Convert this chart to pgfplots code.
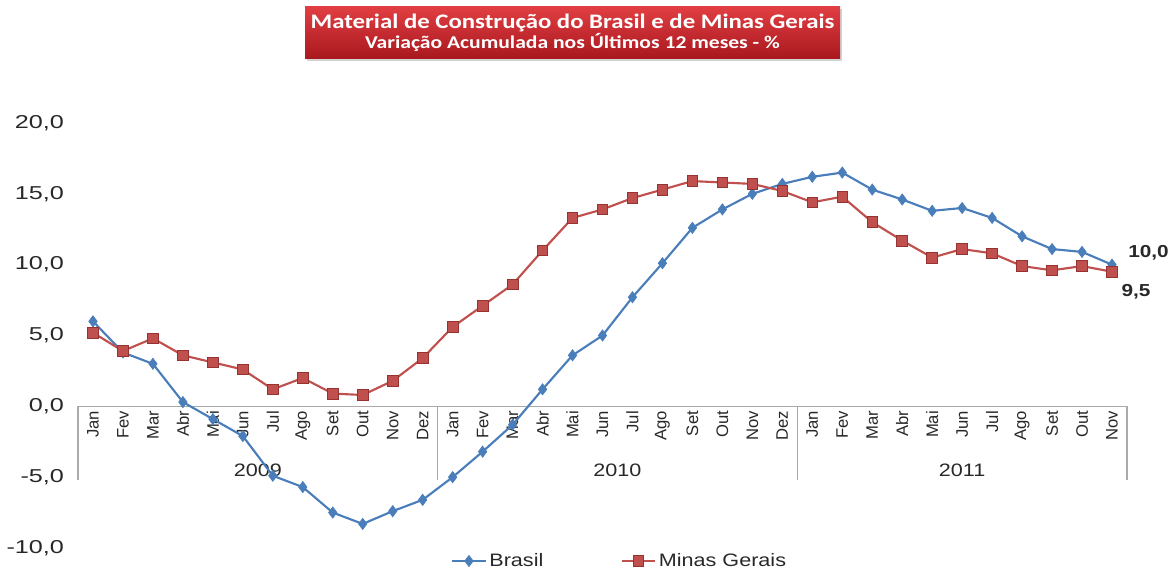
\documentclass[border=0pt]{standalone}
\usepackage{pgfplots}
\pgfplotsset{compat=1.18}
\usepackage{fontspec}
\setmainfont{Liberation Sans}
\newfontfamily\titlefont{Carlito}
\usepackage{graphicx}
\usetikzlibrary{shadows}
\definecolor{bblue}{RGB}{74,126,187}
\definecolor{rred}{RGB}{192,80,77}
\definecolor{rredd}{RGB}{150,50,48}
\definecolor{axgray}{RGB}{170,170,170}
\definecolor{txt}{RGB}{40,40,40}
\newcommand\wide[1]{\scalebox{1.2}[1]{#1}}
\newcommand\wider[1]{\scalebox{1.35}[1]{#1}}
\begin{document}
\begin{tikzpicture}
\useasboundingbox (0,0) rectangle (879pt,428.25pt);
\node[draw=none, top color={rgb,255:red,224;green,62;blue,66}, bottom color={rgb,255:red,168;green,24;blue,30},
  minimum width=401.25pt, minimum height=39pt, inner sep=0pt,
  drop shadow={shadow xshift=1.2pt, shadow yshift=-1.5pt, opacity=0.35}] at (429.4pt,403.5pt) {};
\node[text=white, align=center, font=\titlefont\bfseries, inner sep=0pt] at (429.4pt,403.5pt)
  {\wide{\fontsize{15.5}{17}\selectfont Material de Construção do Brasil e de Minas Gerais}\\[0pt]
   \wide{\fontsize{13.5}{15}\selectfont Variação Acumulada nos Últimos 12 meses - \%}};
\begin{axis}[
  at={(58.5pt,17.25pt)}, anchor=south west,
  scale only axis, width=786.75pt, height=318.75pt,
  xmin=-0.5, xmax=34.5, ymin=-10, ymax=20,
  clip=false,
  axis x line=middle, axis y line=left,
  axis line style={-},
  y axis line style={draw=none},
  x axis line style={draw=axgray, line width=0.8pt},
  major tick length=0pt,
  hide obscured x ticks=false, hide obscured y ticks=false,
  xtick={0,...,34},
  xticklabels={Jan,Fev,Mar,Abr,Mai,Jun,Jul,Ago,Set,Out,Nov,Dez,Jan,Fev,Mar,Abr,Mai,Jun,Jul,Ago,Set,Out,Nov,Dez,Jan,Fev,Mar,Abr,Mai,Jun,Jul,Ago,Set,Out,Nov},
  x tick label style={rotate=90, anchor=east, font=\fontsize{12.5}{12.5}\selectfont, text=txt},
  ytick={-10,-5,0,5,10,15,20},
  yticklabel={\wider{\pgfmathprintnumber{\tick}}},
  y tick label style={font=\fontsize{14}{14}\selectfont, text=txt, xshift=-7pt,
    /pgf/number format/.cd, fixed, fixed zerofill, precision=1, use comma, assume math mode=true},
  legend style={at={(0.5167,-0.0306)}, anchor=center, draw=none, fill=none,
    font=\fontsize{13.5}{14}\selectfont, text=txt,
    /tikz/every even column/.append style={column sep=56pt}},
  legend columns=2,
  legend image code/.code={\draw[mark repeat=2,mark phase=2,#1] plot coordinates {(0pt,0pt)(12.5pt,0pt)(25pt,0pt)};},
]
\draw[axgray, line width=0.8pt] (axis cs:-0.5,0) -- (axis cs:-0.5,-5.2);
\draw[axgray, line width=0.8pt] (axis cs:11.5,0) -- (axis cs:11.5,-5.2);
\draw[axgray, line width=0.8pt] (axis cs:23.5,0) -- (axis cs:23.5,-5.2);
\draw[axgray, line width=0.8pt] (axis cs:34.5,0) -- (axis cs:34.5,-5.2);
\node[font=\fontsize{13.5}{14}\selectfont, text=txt] at (axis cs:5.5,-4.5) {\wide{2009}};
\node[font=\fontsize{13.5}{14}\selectfont, text=txt] at (axis cs:17.5,-4.5) {\wide{2010}};
\node[font=\fontsize{13.5}{14}\selectfont, text=txt] at (axis cs:29,-4.5) {\wide{2011}};

\addplot[bblue, line width=1.6pt, mark=diamond*, mark size=4.2pt, mark options={fill=bblue, draw=bblue, line width=0.5pt}] coordinates {
(0,6.0)(1,3.8)(2,3.0)(3,0.3)(4,-0.9)(5,-2.1)(6,-4.9)(7,-5.7)(8,-7.5)(9,-8.3)(10,-7.4)(11,-6.6)
(12,-5.0)(13,-3.2)(14,-1.3)(15,1.2)(16,3.6)(17,5.0)(18,7.7)(19,10.1)(20,12.6)(21,13.9)(22,15.0)(23,15.7)
(24,16.2)(25,16.5)(26,15.3)(27,14.6)(28,13.8)(29,14.0)(30,13.3)(31,12.0)(32,11.1)(33,10.9)(34,10.0)};
\addlegendentry{\wide{Brasil}}
\addplot[rred, line width=1.6pt, mark=square*, mark size=4pt, mark options={fill=rred, draw=rredd, line width=0.6pt}] coordinates {
(0,5.2)(1,3.9)(2,4.8)(3,3.6)(4,3.1)(5,2.6)(6,1.2)(7,2.0)(8,0.9)(9,0.8)(10,1.8)(11,3.4)
(12,5.6)(13,7.1)(14,8.6)(15,11.0)(16,13.3)(17,13.9)(18,14.7)(19,15.3)(20,15.9)(21,15.8)(22,15.7)(23,15.2)
(24,14.4)(25,14.8)(26,13.0)(27,11.7)(28,10.5)(29,11.1)(30,10.8)(31,9.9)(32,9.6)(33,9.9)(34,9.5)};
\addlegendentry{\wide{Minas Gerais}}

\node[anchor=west, font=\fontsize{13}{14}\selectfont\bfseries, text=txt, xshift=12pt, yshift=9pt, inner sep=0pt] at (axis cs:34,10.0) {\wide{10,0}};
\node[anchor=west, font=\fontsize{13}{14}\selectfont\bfseries, text=txt, xshift=7pt, yshift=-15pt, inner sep=0pt] at (axis cs:34,9.5) {\wide{9,5}};
\end{axis}
\end{tikzpicture}
\end{document}
